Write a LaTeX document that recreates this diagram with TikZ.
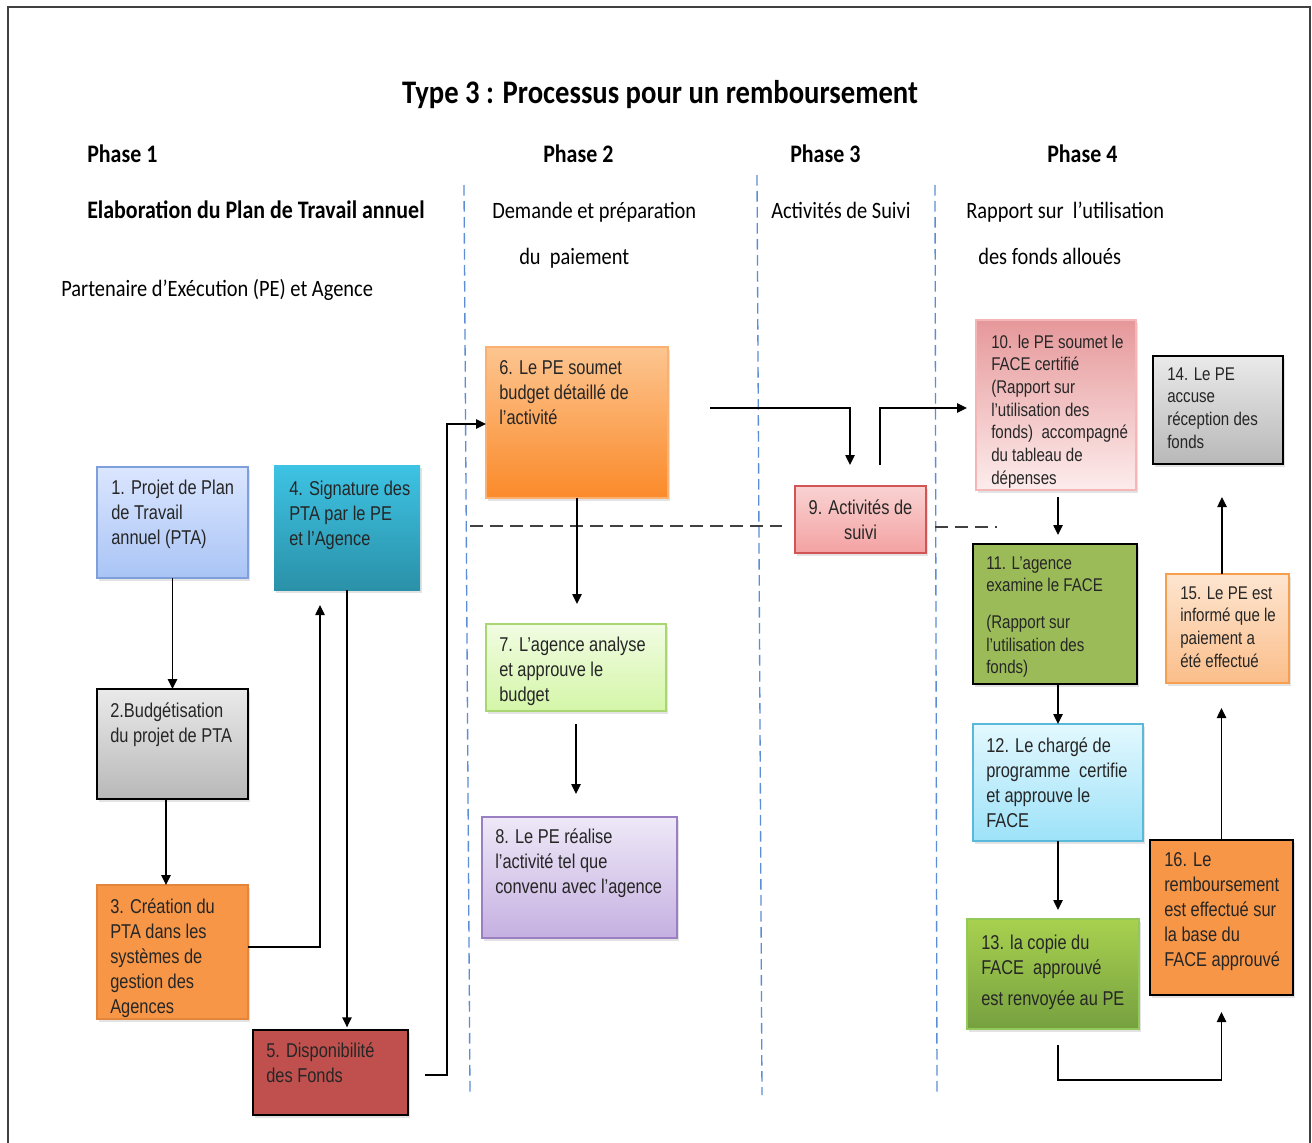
\documentclass[tikz,border=0pt]{standalone}
\usepackage{fontspec}
\usetikzlibrary{arrows.meta,calc,shadows}
\newfontfamily\hdfont{Carlito}[FakeStretch=0.87]
\newfontfamily\bxfont{Liberation Sans}[FakeStretch=0.82]
\newcommand\boxlines[1]{\begin{tabular}[t]{@{}l@{}}#1\end{tabular}}
\newcommand\boxlinesc[1]{\begin{tabular}[t]{@{}c@{}}#1\end{tabular}}
% box: style, x1, y1, x2, y2, name  (pixel-like units, y pointing down)
\newcommand\mkbox[6]{\node[card,#1,minimum width={(#4-#2)*0.75pt},minimum height={(#5-#3)*0.75pt}] (#6) at ({(#2+#4)/2},{(#3+#5)/2}) {};}

\definecolor{laneblue}{HTML}{5B8ED6}
\definecolor{inktext}{HTML}{262626}
\definecolor{bAtop}{HTML}{DBE6FF}\definecolor{bAbot}{HTML}{A9C4F5}\definecolor{bAedge}{HTML}{7F9FDC}
\definecolor{grtop}{HTML}{EAEAEA}\definecolor{grbot}{HTML}{B8B8B8}
\definecolor{orflat}{HTML}{F79646}\definecolor{oredge}{HTML}{E3863B}
\definecolor{tltop}{HTML}{3EC3E4}\definecolor{tlbot}{HTML}{2A91A8}
\definecolor{rdflat}{HTML}{C0504D}
\definecolor{o6top}{HTML}{FCC590}\definecolor{o6bot}{HTML}{FB8A2A}\definecolor{o6edge}{HTML}{F9B071}
\definecolor{g7top}{HTML}{F1FCE2}\definecolor{g7bot}{HTML}{D4F6A8}\definecolor{g7edge}{HTML}{A9D672}
\definecolor{v8top}{HTML}{EEE8F7}\definecolor{v8bot}{HTML}{C5B0E1}\definecolor{v8edge}{HTML}{9B7FC3}
\definecolor{p9top}{HTML}{F9D2D2}\definecolor{p9bot}{HTML}{F4A2A2}\definecolor{p9edge}{HTML}{D25555}
\definecolor{p10top}{HTML}{E6989A}\definecolor{p10bot}{HTML}{FDECEC}\definecolor{p10edge}{HTML}{F4B6B6}
\definecolor{olive}{HTML}{9BBB59}
\definecolor{c12top}{HTML}{E3F8FE}\definecolor{c12bot}{HTML}{9DE2F9}\definecolor{c12edge}{HTML}{58B9DA}
\definecolor{g13top}{HTML}{A8D14F}\definecolor{g13bot}{HTML}{76A03F}\definecolor{g13edge}{HTML}{93C95A}
\definecolor{o15top}{HTML}{FDE5D0}\definecolor{o15bot}{HTML}{FBBE8A}\definecolor{o15edge}{HTML}{F59F4F}

\begin{document}
\begin{tikzpicture}[x=0.75pt,y=-0.75pt,
  card/.style={rectangle,inner sep=0pt,outer sep=0pt,line width=0.8pt,
    drop shadow={shadow xshift=1.5pt,shadow yshift=-2pt,opacity=0.22}},
  darkedge/.style={draw=black,line width=1.5pt},
  boxtext/.style={font=\bxfont\fontsize{15pt}{18.75pt}\selectfont,inner sep=0pt,anchor=base west,text=inktext},
  smalltext/.style={font=\bxfont\fontsize{13.8pt}{17pt}\selectfont},
  headtext/.style={font=\hdfont\fontsize{17.6pt}{21pt}\selectfont,inner sep=0pt,anchor=base west,text=black},
  headbold/.style={headtext,font=\hdfont\bfseries\fontsize{18.9pt}{22pt}\selectfont},
  arr/.style={-{Triangle[length=7.5pt,width=7pt]},line width=1.1pt},
  lane/.style={draw=laneblue,line width=1pt,dash pattern=on 8pt off 4pt},
  rowsep/.style={draw=black!75,line width=1pt,dash pattern=on 10pt off 5pt}]

\useasboundingbox (0,0) rectangle (1312,1142);
\fill[white] (0,0) rectangle (1312,1142);

% frame
\draw[black!75,line width=1.3pt] (8,1160) -- (8,7) -- (1310,7) -- (1310,1160);

% title and column headings
\node[font=\hdfont\bfseries\fontsize{24.7pt}{28pt}\selectfont,anchor=base,inner sep=0pt] (title) at (660,103) {Type 3 : Processus pour un remboursement};

\node[headbold] (ph1) at (87,162) {Phase 1};
\node[headbold] (ph2) at (543,162) {Phase 2};
\node[headbold] (ph3) at (790,162) {Phase 3};
\node[headbold] (ph4) at (1047,162) {Phase 4};

\node[headbold] (h1) at (87,218) {Elaboration du Plan de Travail annuel};
\node[headtext] (h2a) at (492,218) {Demande et préparation};
\node[headtext] (h2b) at (519,264) {du\ \ paiement};
\node[headtext] (h3) at (771,218) {Activités de Suivi};
\node[headtext] (h4a) at (966,218) {Rapport sur\ \ l’utilisation};
\node[headtext] (h4b) at (978,264) {des fonds alloués};
\node[headtext] (h1b) at (61,296) {Partenaire d’Exécution (PE) et Agence};

% lane separators
\draw[lane] (464,185) -- (470,1095);
\draw[lane] (757,175) -- (762,1095);
\draw[lane] (935,185) -- (937,1095);
\draw[rowsep] (470,526) -- (782,526);
\draw[rowsep] (935,527) -- (997,527);

% boxes
\mkbox{top color=bAtop,bottom color=bAbot,draw=bAedge}{97}{467}{248}{578}{b1}
\mkbox{top color=grtop,bottom color=grbot,darkedge}{97}{689}{248}{799}{b2}
\mkbox{fill=orflat,draw=oredge}{97}{885}{248}{1019}{b3}
\mkbox{top color=tltop,bottom color=tlbot,draw=none}{274}{465}{420}{590}{b4}
\mkbox{fill=rdflat,darkedge}{253}{1030}{408}{1115}{b5}
\mkbox{top color=o6top,bottom color=o6bot,draw=o6edge}{486}{347}{668}{498}{b6}
\mkbox{top color=g7top,bottom color=g7bot,draw=g7edge}{486}{624}{666}{711}{b7}
\mkbox{top color=v8top,bottom color=v8bot,draw=v8edge}{482}{817}{677}{938}{b8}
\mkbox{top color=p9top,bottom color=p9bot,draw=p9edge}{795}{486}{926}{553}{b9}
\mkbox{top color=p10top,bottom color=p10bot,draw=p10edge}{976}{320}{1136}{490}{b10}
\mkbox{fill=olive,darkedge}{973}{544}{1137}{684}{b11}
\mkbox{top color=c12top,bottom color=c12bot,draw=c12edge}{973}{724}{1143}{841}{b12}
\mkbox{top color=g13top,bottom color=g13bot,draw=g13edge}{967}{919}{1139}{1029}{b13}
\mkbox{top color=grtop,bottom color=grbot,darkedge}{1153}{356}{1283}{464}{b14}
\mkbox{top color=o15top,bottom color=o15bot,draw=o15edge}{1166}{574}{1289}{683}{b15}
\mkbox{fill=orflat,darkedge}{1150}{840}{1293}{995}{b16}

% box texts
\node[boxtext] (t1) at ($(b1.north west)+(14,27)$) {\boxlines{1. Projet de Plan\\de Travail\\annuel (PTA)}};
\node[boxtext] (t2) at ($(b2.north west)+(13,28)$) {\boxlines{2.Budgétisation\\du projet de PTA}};
\node[boxtext] (t3) at ($(b3.north west)+(13,28)$) {\boxlines{3. Création du\\PTA dans les\\systèmes de\\gestion des\\Agences}};
\node[boxtext] (t4) at ($(b4.north west)+(15,30)$) {\boxlines{4. Signature des\\PTA par le PE\\et l’Agence}};
\node[boxtext] (t5) at ($(b5.north west)+(13,27)$) {\boxlines{5. Disponibilité\\des Fonds}};
\node[boxtext] (t6) at ($(b6.north west)+(13,27)$) {\boxlines{6. Le PE soumet\\budget détaillé de\\l’activité}};
\node[boxtext] (t7) at ($(b7.north west)+(13,27)$) {\boxlines{7. L’agence analyse\\et approuve le\\budget}};
\node[boxtext] (t8) at ($(b8.north west)+(13,26)$) {\boxlines{8. Le PE réalise\\l’activité tel que\\convenu avec l’agence}};
\node[boxtext,anchor=base] (t9) at ($(b9.north)+(0,28)$) {\boxlinesc{9. Activités de\\suivi}};
\node[boxtext,smalltext] (t10) at ($(b10.north west)+(15,28)$) {\boxlines{10. le PE soumet le\\FACE certifié\\(Rapport sur\\l’utilisation des\\fonds)\ \ accompagné\\du tableau de\\dépenses}};
\node[boxtext,smalltext] (t11) at ($(b11.north west)+(13,25)$) {\boxlines{11. L’agence\\examine le FACE\\[10.5pt](Rapport sur\\l’utilisation des\\fonds)}};
\node[boxtext] (t12) at ($(b12.north west)+(13,28)$) {\boxlines{12. Le chargé de\\programme\ \ certifie\\et approuve le\\FACE}};
\node[boxtext] (t13) at ($(b13.north west)+(14,30)$) {\boxlines{13. la copie du\\FACE\ \ approuvé\\[4.5pt]est renvoyée au PE}};
\node[boxtext,smalltext] (t14) at ($(b14.north west)+(14,24)$) {\boxlines{14. Le PE\\accuse\\réception des\\fonds}};
\node[boxtext,smalltext] (t15) at ($(b15.north west)+(14,25)$) {\boxlines{15. Le PE est\\informé que le\\paiement a\\été effectué}};
\node[boxtext] (t16) at ($(b16.north west)+(14,26)$) {\boxlines{16. Le\\remboursement\\est effectué sur\\la base du\\FACE approuvé}};

% connectors, phase 1
\draw[arr] (b1.south) -- (b2.north);
\draw[arr] ($(b2.south)+(-6.5,0)$) -- ($(b3.north)+(-6.5,0)$);
\draw[arr] ($(b3.east)+(0,-5)$) -| ($(b4.south)+(-27,15)$);
\draw[arr,shorten >=2pt] (b4.south) -- (b4.south |- b5.north);
\draw[arr] ($(b5.east)+(17,2.5)$) -| ($(b6.west)+(-39,1.5)$) -- ($(b6.west)+(0,1.5)$);

% connectors, phase 2 and 3
\draw[arr] (b6.south) -- ($(b6.south |- b7.north)+(0,-20)$);
\draw[arr] ($(b7.south)+(0,13)$) -- ($(b7.south |- b8.north)+(0,-23)$);
\draw[arr] ($(b6.east)+(42,-14.5)$) -| ($(b9.north)+(-10.5,-21)$);
\draw[arr] ($(b9.north)+(19.5,-21)$) |- ($(b10.west)+(-9,3)$);

% connectors, phase 4
\draw[arr] ($(b10.south)+(2,7)$) -- ($(b11.north)+(3,-9)$);
\draw[arr] ($(b11.south)+(3,0)$) -- ($(b12.north)+(0,0)$);
\draw[arr] (b12.south) -- ($(b12.south |- b13.north)+(0,-9)$);
\draw[arr] ($(b13.south)+(5,16)$) |- ($(b16.south)+(0,85)$) -- ($(b16.south)+(0,17)$);
\draw[arr] (b16.north) -- ($(b16.north |- b15.south)+(0,25)$);
\draw[arr] ($(b15.north)+(-5.5,0)$) -- ($(b14.south)+(4,33)$);

\end{tikzpicture}
\end{document}
